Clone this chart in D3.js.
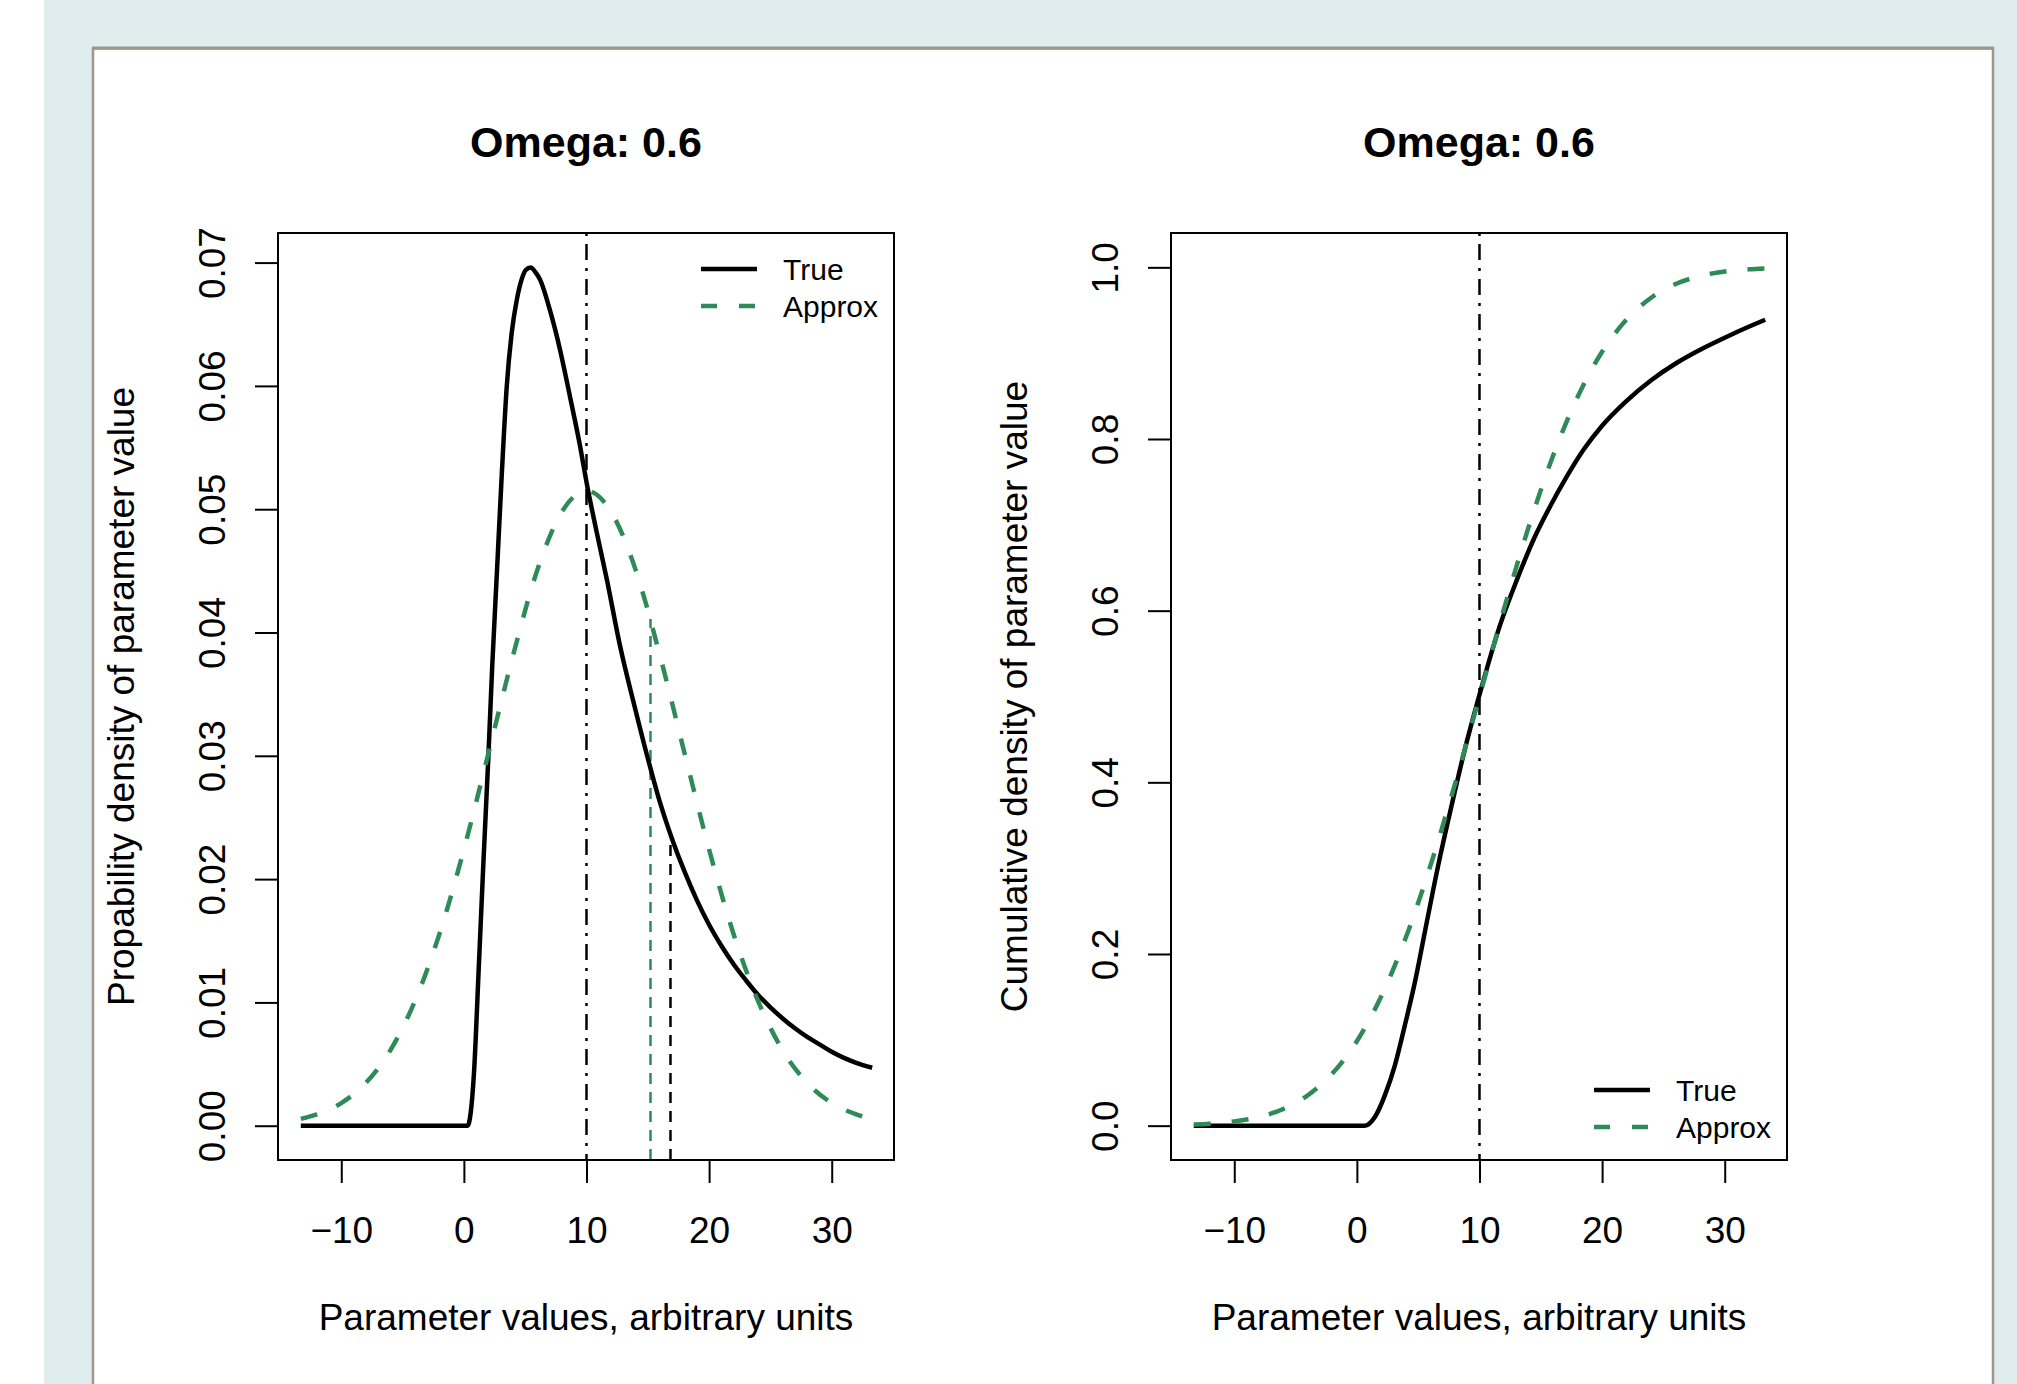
<!DOCTYPE html>
<html>
<head>
<meta charset="utf-8">
<script src="https://cdn.jsdelivr.net/npm/d3@7"></script>
<style>
body { margin: 0; background: #ffffff; }
text { font-family: "Liberation Sans", Arial, sans-serif; fill: #000; }
</style>
</head>
<body>
<svg id="canvas" width="2017" height="1384"></svg>
<script>
var svg = d3.select("#canvas");

// values
var titleText = "Omega: 0.6";
var xTicks = [-10, 0, 10, 20, 30];
var densTicks = [0, 0.01, 0.02, 0.03, 0.04, 0.05, 0.06, 0.07];
var cdfTicks = [0, 0.2, 0.4, 0.6, 0.8, 1.0];
var seriesNames = ["True", "Approx"];
var centerX = 10;

var trueDensX = [-13.3, -10, -5, 0, 0.3, 0.55, 0.82, 1.2, 1.6, 2.0, 2.3, 2.7, 3.1, 3.5, 3.9, 4.3, 4.7, 5.05, 5.45, 5.85, 6.22, 7.03, 7.85, 8.66, 9.48, 10.02, 10.84, 11.66, 12.74, 14, 15, 16, 17, 18, 19, 20, 21, 22, 23, 24, 25, 26, 27, 28, 29, 30, 31, 32, 33.3];
var trueDensY = [0, 0, 0, 0, 0, 0.0010, 0.0042, 0.0125, 0.0215, 0.0300, 0.0370, 0.0450, 0.0530, 0.0600, 0.0643, 0.0669, 0.0686, 0.0694, 0.0696, 0.0692, 0.0686, 0.0661, 0.0629, 0.0591, 0.0551, 0.0521, 0.0481, 0.0443, 0.0389, 0.0337, 0.0298, 0.0262, 0.0232, 0.0206, 0.0183, 0.0163, 0.0146, 0.0131, 0.0118, 0.0106, 0.0096, 0.0087, 0.0079, 0.0072, 0.0066, 0.0060, 0.0055, 0.0051, 0.0047];

var apprX = [-13.3, -12, -10, -8, -6, -4, -2, 0, 2, 4, 6, 8, 10, 12, 14, 16, 18, 20, 22, 24, 26, 28, 30, 32, 33.3];
var apprDensY = [0.00056, 0.00092, 0.00184, 0.00347, 0.00611, 0.0101, 0.01553, 0.0224, 0.0302, 0.0381, 0.0451, 0.0498, 0.0515, 0.0498, 0.0451, 0.0381, 0.0302, 0.0224, 0.01553, 0.0101, 0.00611, 0.00347, 0.00184, 0.00092, 0.00056];
var apprCdfY = [0.0013, 0.0023, 0.0049, 0.0101, 0.0194, 0.0354, 0.0607, 0.0984, 0.151, 0.2195, 0.303, 0.398, 0.5, 0.602, 0.697, 0.7805, 0.849, 0.9016, 0.9393, 0.9646, 0.9806, 0.9899, 0.9951, 0.9977, 0.9987];

var trueCdfX = [-13.3, -5, 0, 0.65, 1.47, 2.28, 3.1, 3.91, 4.73, 5.54, 6.63, 7.72, 8.81, 9.9, 11.71, 13.08, 14.43, 15.79, 17.15, 18.51, 20, 22, 24, 26, 28, 30, 32, 33.3];
var trueCdfY = [0, 0, 0, 0, 0.0101, 0.0353, 0.0702, 0.1167, 0.167, 0.2254, 0.303, 0.3727, 0.4387, 0.4969, 0.5846, 0.637, 0.6835, 0.7223, 0.757, 0.788, 0.8155, 0.8445, 0.8685, 0.888, 0.904, 0.918, 0.931, 0.939];

// quantile markers on the density panel: True, Approx
var quantX = [16.85, 15.22];
var quantY = [0.0234, 0.0411];

var green = "#2e8b57";

// page frame
svg.append("rect").attr("x", 44).attr("y", 0).attr("width", 1973).attr("height", 1384).attr("fill", "#dfedef");
svg.append("rect").attr("x", 93).attr("y", 48.5).attr("width", 1900).attr("height", 1340)
  .attr("fill", "#fff").attr("stroke", "#a0968a").attr("stroke-width", 2.5);
svg.append("line").attr("x1", 92).attr("x2", 1994).attr("y1", 48).attr("y2", 48)
  .attr("stroke", "#a0968a").attr("stroke-width", 3);

function zip(xs, ys) { return xs.map(function(d, i) { return [d, ys[i]]; }); }

function panel(left, opt) {
  var top = 233, bottom = 1160, right = left + 616;
  var cx = (left + right) / 2;
  var x = d3.scaleLinear().domain([-15.16, 35.08]).range([left, right]);
  var y = d3.scaleLinear().domain(opt.yDomain).range([bottom, top]);
  var g = svg.append("g");

  var line = d3.line().x(function(d) { return x(d[0]); }).y(function(d) { return y(d[1]); })
    .curve(d3.curveMonotoneX);

  var plot = g.append("g");

  // reference line at the centre value
  plot.append("line")
    .attr("x1", x(centerX)).attr("x2", x(centerX))
    .attr("y1", top).attr("y2", bottom)
    .attr("stroke", "#000").attr("stroke-width", 2.5).attr("stroke-dasharray", "3,8,16,8");

  if (opt.quant) {
    var qc = ["#000", green];
    quantX.forEach(function(q, i) {
      plot.append("line")
        .attr("x1", x(q)).attr("x2", x(q))
        .attr("y1", bottom).attr("y2", y(quantY[i]))
        .attr("stroke", qc[i]).attr("stroke-width", 2.5).attr("stroke-dasharray", "11,8");
    });
  }

  plot.append("path").datum(zip(opt.trueX, opt.trueY))
    .attr("d", line).attr("fill", "none").attr("stroke", "#000")
    .attr("stroke-width", 4.5).attr("stroke-linejoin", "round");
  plot.append("path").datum(zip(apprX, opt.apprY))
    .attr("d", line).attr("fill", "none").attr("stroke", green)
    .attr("stroke-width", 4.5).attr("stroke-dasharray", "17,21");

  // box
  g.append("rect").attr("x", left).attr("y", top).attr("width", 616).attr("height", bottom - top)
    .attr("fill", "none").attr("stroke", "#000").attr("stroke-width", 2);

  // x axis
  var xa = g.append("g").attr("transform", "translate(0," + bottom + ")")
    .call(d3.axisBottom(x).tickValues(xTicks).tickSize(23).tickSizeOuter(0)
      .tickFormat(function(d) { return d < 0 ? "\u2212" + Math.abs(d) : d; }));
  xa.select(".domain").remove();
  xa.selectAll("line").attr("stroke", "#000").attr("stroke-width", 2);
  xa.selectAll("text").attr("y", 83).attr("dy", 0)
    .style("font-size", "37px").style("font-family", "Liberation Sans, Arial, sans-serif").attr("fill", "#000");

  // y axis, labels parallel to the axis
  var ya = g.append("g").attr("transform", "translate(" + left + ",0)")
    .call(d3.axisLeft(y).tickValues(opt.yTicks).tickSize(23).tickSizeOuter(0).tickFormat(d3.format(opt.fmt)));
  ya.select(".domain").remove();
  ya.selectAll("line").attr("stroke", "#000").attr("stroke-width", 2);
  ya.selectAll("text").attr("x", 0).attr("y", -53).attr("dy", 0)
    .attr("transform", "rotate(-90)").attr("text-anchor", "middle")
    .style("font-size", "37px").style("font-family", "Liberation Sans, Arial, sans-serif").attr("fill", "#000");

  // titles
  g.append("text").attr("x", cx).attr("y", 157).attr("text-anchor", "middle")
    .style("font-size", "43px").style("font-weight", "bold").text(titleText);
  g.append("text").attr("x", cx).attr("y", 1330).attr("text-anchor", "middle")
    .style("font-size", "37px").text("Parameter values, arbitrary units");
  g.append("text").attr("transform", "translate(" + (left - 144) + "," + ((top + bottom) / 2) + ") rotate(-90)")
    .attr("text-anchor", "middle").style("font-size", "37px").text(opt.ylab);

  // legend
  var lg = g.append("g").attr("transform", "translate(" + (right - 193) + "," + opt.legY + ")");
  lg.selectAll(".key").data(seriesNames).enter().append("line")
    .attr("x1", 0).attr("x2", 56)
    .attr("y1", function(d, i) { return i * 37; }).attr("y2", function(d, i) { return i * 37; })
    .attr("stroke", function(d, i) { return i ? green : "#000"; })
    .attr("stroke-width", 4.5)
    .attr("stroke-dasharray", function(d, i) { return i ? "16,22" : null; });
  lg.selectAll(".lab").data(seriesNames).enter().append("text")
    .attr("x", 82).attr("y", function(d, i) { return i * 37; }).attr("dy", "0.36em")
    .style("font-size", "30px").text(function(d) { return d; });
}

panel(278, {
  yDomain: [-0.00278, 0.0724], yTicks: densTicks, fmt: ".2f",
  trueX: trueDensX, trueY: trueDensY, apprY: apprDensY,
  ylab: "Propability density of parameter value", legY: 269, quant: true
});
panel(1171, {
  yDomain: [-0.04, 1.04], yTicks: cdfTicks, fmt: ".1f",
  trueX: trueCdfX, trueY: trueCdfY, apprY: apprCdfY,
  ylab: "Cumulative density of parameter value", legY: 1090, quant: false
});
</script>
</body>
</html>
